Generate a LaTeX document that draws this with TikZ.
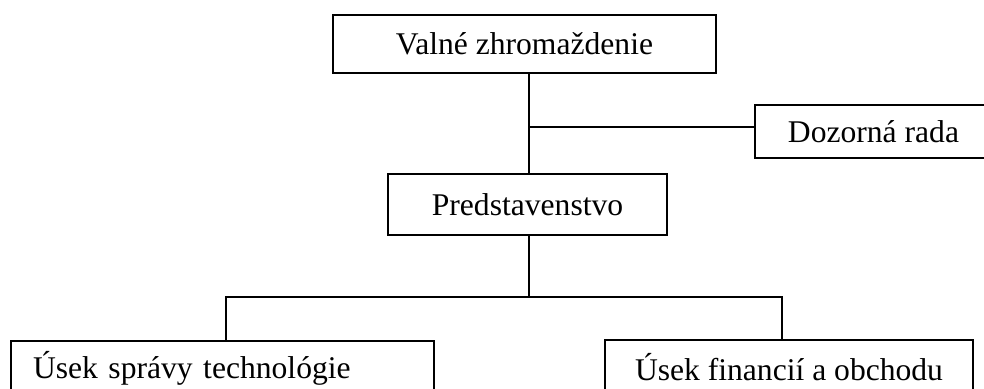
\documentclass[tikz,border=0pt]{standalone}
\usepackage{fontspec}
\setmainfont{Liberation Serif}

\begin{document}
\begin{tikzpicture}[x=0.5pt,y=-0.5pt,line width=1pt,
	box/.style={draw,inner sep=0pt,font=\fontsize{15.8}{19}\selectfont}]
	% frame of the picture
	\useasboundingbox (0,0) rectangle (984,388);
	\clip (0,0) rectangle (984,388);
	% draw boxes
	\node[box,minimum width=191.5pt,minimum height=29pt] (vz) at (524.5,44) {Valné zhromaždenie};
	\node[box,minimum width=118.5pt,minimum height=26.5pt] (dr) at (873.5,131.5) {Dozorná rada};
	\node[box,minimum width=139.5pt,minimum height=30.5pt] (pr) at (527.5,204.5) {Predstavenstvo};
	\node[box,anchor=north west,inner xsep=11pt,text width=189.5pt,align=left,minimum height=27pt] (ust) at (10,340) {Úsek správy technológie};
	\node[box,minimum width=184pt,minimum height=27pt] (ufo) at (789,367) {Úsek financií a obchodu};
	% draw joints
	\coordinate (jdr) at (529,127);
	\coordinate (jl) at (226,297);
	\coordinate (jr) at (782,297);
	% draw lines
	\draw (vz.south -| jdr) -- (pr.north -| jdr);
	\draw (jdr) -- (jdr -| dr.west);
	\draw (pr.south -| jdr) -- (jl -| jdr);
	\draw (jl |- ust.north) -- (jl) -- (jr) -- (jr |- ufo.north);
\end{tikzpicture}
\end{document}
